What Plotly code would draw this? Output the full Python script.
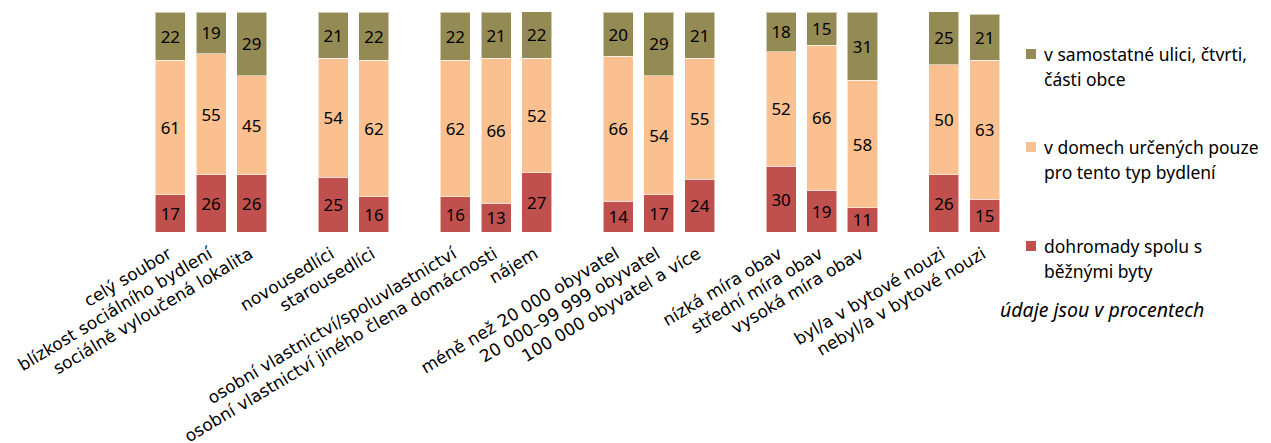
import plotly.graph_objects as go

# categories (blank strings of different length act as gaps between groups)
categories = [
    "celý soubor", "blízkost sociálního bydlení", "sociálně vyloučená lokalita", " ",
    "novousedlíci", "starousedlíci", "  ",
    "osobní vlastnictví/spoluvlastnictví", "osobní vlastnictví jiného člena domácnosti", "nájem", "   ",
    "méně než 20 000 obyvatel", "20 000–99 999 obyvatel", "100 000 obyvatel a více", "    ",
    "nízká míra obav", "střední míra obav", "vysoká míra obav", "     ",
    "byl/a v bytové nouzi", "nebyl/a v bytové nouzi",
]

together = [17, 26, 26, None, 25, 16, None, 16, 13, 27, None, 14, 17, 24, None, 30, 19, 11, None, 26, 15]
own_houses = [61, 55, 45, None, 54, 62, None, 62, 66, 52, None, 66, 54, 55, None, 52, 66, 58, None, 50, 63]
separate = [22, 19, 29, None, 21, 22, None, 22, 21, 22, None, 20, 29, 21, None, 18, 15, 31, None, 25, 21]

names = [
    ["dohromady spolu s", "běžnými byty"],
    ["v domech určených pouze", "pro tento typ bydlení"],
    ["v samostatné ulici, čtvrti,", "části obce"],
]
colors = ["#C0504D", "#FAC090", "#948A54"]
note = "údaje jsou v procentech"

# the page body adds 8px around the figure, so work in screen pixels minus that
OFF = 8
W, H = 1271 - OFF, 443 - OFF
L, R, T, B = 150 - OFF, 266, 12 - OFF, 211
px = lambda x: (x - OFF - L) / (W - L - R)
py = lambda y: (H - B - (y - OFF)) / (H - T - B)

fig = go.Figure()
for vals, name, color in zip([together, own_houses, separate], names, colors):
    fig.add_trace(go.Bar(
        x=categories,
        y=vals,
        name=" ".join(name),
        marker=dict(color=color, line=dict(color="rgba(255,255,255,0.55)", width=1)),
        text=[("" if v is None else str(v)) for v in vals],
        textposition="inside",
        insidetextanchor="middle",
        textangle=0,
        textfont=dict(family="Noto Sans", size=18, color="black"),
        width=0.74,
        hoverinfo="x+y",
    ))

fig.update_layout(
    barmode="stack",
    width=W,
    height=H,
    margin=dict(l=L, r=R, t=T, b=B),
    paper_bgcolor="white",
    plot_bgcolor="white",
    showlegend=False,
    uniformtext=dict(minsize=14, mode="show"),
)
fig.update_xaxes(
    type="category",
    tickangle=-31,
    tickfont=dict(family="DejaVu Sans", size=17, color="black"),
    ticklabelstandoff=8,
    ticklabelshift=-2,
    showline=False, showgrid=False, ticks="",
    automargin=False,
)
fig.update_yaxes(range=[0, 100], visible=False, showgrid=False, automargin=False)

# legend drawn by hand: olive on top, then peach, then red
legend_rows = [(2, 54), (1, 147), (0, 246)]
for idx, yc in legend_rows:
    fig.add_shape(
        type="rect", xref="paper", yref="paper",
        x0=px(1026), x1=px(1036), y0=py(yc + 5), y1=py(yc - 5),
        fillcolor=colors[idx], line=dict(width=0),
    )
    for k, line in enumerate(names[idx]):
        fig.add_annotation(
            text=line, xref="paper", yref="paper",
            x=px(1042), y=py(yc + k * 25), xanchor="left", yanchor="middle",
            showarrow=False,
            font=dict(family="Noto Sans", size=17.5, color="black"),
        )

fig.add_annotation(
    text=f"<i>{note}</i>",
    xref="paper", yref="paper", x=px(998), y=py(309),
    xanchor="left", yanchor="middle", showarrow=False,
    font=dict(family="Noto Sans", size=19.5, color="black"),
)

fig.write_html("out.html")
